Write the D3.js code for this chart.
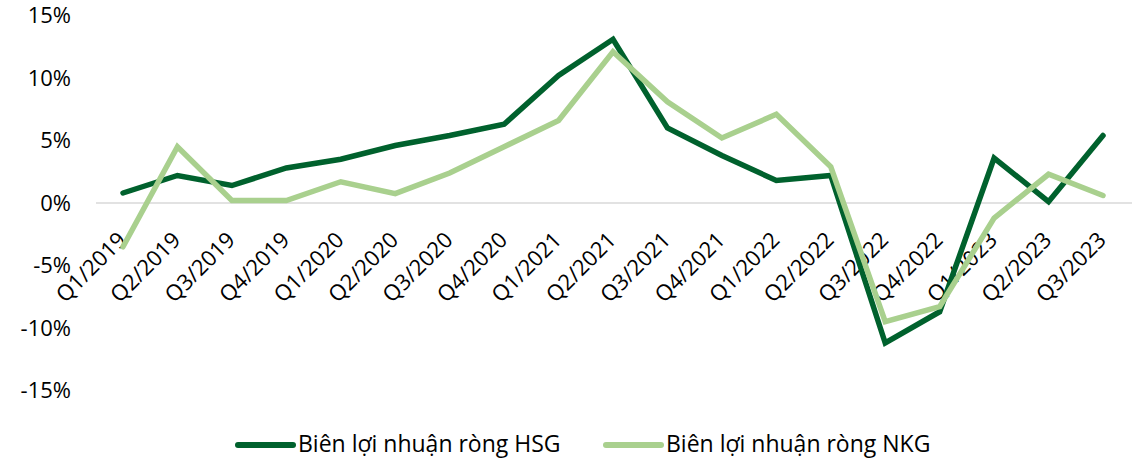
<!DOCTYPE html>
<html lang="vi">
<head>
<meta charset="UTF-8">
<title>Biên lợi nhuận ròng HSG vs NKG</title>
<script src="https://cdn.jsdelivr.net/npm/d3@7"></script>
<style>
  body { margin: 0; background: #fff; }
  text { font-family: "Open Sans", "Noto Sans", sans-serif; fill: #000; }
</style>
</head>
<body>
<svg id="chart" width="1142" height="461"></svg>
<script>
const quarters = ["Q1/2019","Q2/2019","Q3/2019","Q4/2019","Q1/2020","Q2/2020","Q3/2020","Q4/2020",
  "Q1/2021","Q2/2021","Q3/2021","Q4/2021","Q1/2022","Q2/2022","Q3/2022","Q4/2022",
  "Q1/2023","Q2/2023","Q3/2023"];
// % net margin
const hsg = [0.8, 2.2, 1.4, 2.8, 3.5, 4.6, 5.4, 6.3, 10.2, 13.1, 6.0, 3.8, 1.8, 2.2, -11.2, -8.7, 3.6, 0.1, 5.4];
const nkg = [-3.5, 4.5, 0.2, 0.2, 1.7, 0.75, 2.4, 4.5, 6.6, 12.1, 8.1, 5.2, 7.1, 2.9, -9.5, -8.3, -1.2, 2.3, 0.6];
const yTicks = [-15, -10, -5, 0, 5, 10, 15];
const seriesNames = ["Biên lợi nhuận ròng HSG", "Biên lợi nhuận ròng NKG"];
const colors = ["#00612d", "#a9d08e"];

const svg = d3.select("#chart");

const x = d3.scalePoint()
  .domain(quarters)
  .range([123, 1103]);

const y = d3.scaleLinear()
  .domain([-15, 15])
  .range([390.5, 15.5]);

// y axis labels
svg.append("g")
  .selectAll("text")
  .data(yTicks)
  .join("text")
  .attr("x", 71)
  .attr("y", d => y(d))
  .attr("dy", "0.36em")
  .attr("text-anchor", "end")
  .style("font-size", "22px")
  .text(d => d + "%");

// zero line
svg.append("line")
  .attr("x1", 96).attr("x2", 1132)
  .attr("y1", y(0)).attr("y2", y(0))
  .attr("stroke", "#d9d9d9")
  .attr("stroke-width", 1.5);

// x labels
svg.append("g")
  .selectAll("text")
  .data(quarters)
  .join("text")
  .attr("transform", d => `translate(${x(d) - 1},${y(0) + 33}) rotate(-45)`)
  .attr("text-anchor", "end")
  .attr("dy", "0.35em")
  .style("font-size", "22px")
  .text(d => d);

const line = d3.line()
  .x((d, i) => x(quarters[i]))
  .y(d => y(d));

[hsg, nkg].forEach((s, k) => {
  svg.append("path")
    .datum(s)
    .attr("d", line)
    .attr("fill", "none")
    .attr("stroke", colors[k])
    .attr("stroke-width", 5.5)
    .attr("stroke-linejoin", "miter")
    .attr("stroke-linecap", "round");
});

// legend
const legendX = [238, 606];
const lg = svg.append("g");
seriesNames.forEach((n, k) => {
  lg.append("line")
    .attr("x1", legendX[k]).attr("x2", legendX[k] + 55)
    .attr("y1", 445).attr("y2", 445)
    .attr("stroke", colors[k])
    .attr("stroke-width", 6)
    .attr("stroke-linecap", "round");
  lg.append("text")
    .attr("x", legendX[k] + 60)
    .attr("y", 444)
    .attr("dy", "0.35em")
    .style("font-size", "23px")
    .text(n);
});
</script>
</body>
</html>
